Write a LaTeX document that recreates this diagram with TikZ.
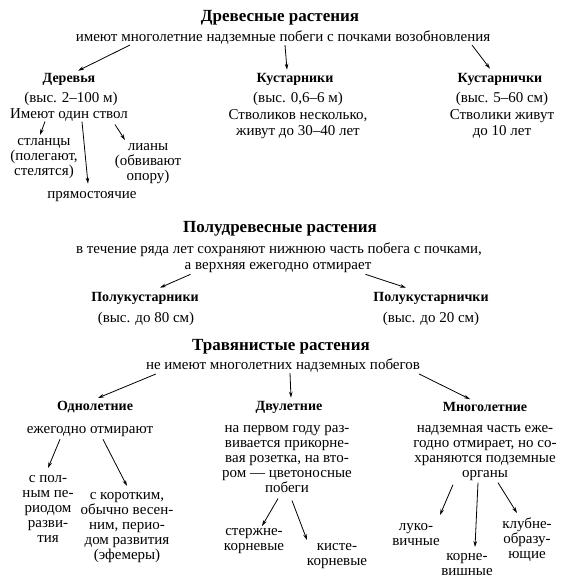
\documentclass[tikz,border=0pt]{standalone}
\usepackage{fontspec}
\setmainfont{Liberation Serif}
\usetikzlibrary{arrows.meta,positioning}

\begin{document}
\begin{tikzpicture}[x=1pt,y=-1pt,
  title/.style={font=\fontsize{17}{19}\selectfont\bfseries, inner sep=0pt},
  head/.style={font=\fontsize{14}{16}\selectfont\bfseries, inner sep=0pt},
  txt/.style={font=\fontsize{15}{15}\selectfont, align=center, inner sep=0pt},
  wide/.style={txt, font=\fontsize{15}{16.5}\selectfont},
  arr/.style={-{Stealth[length=6pt,width=3.6pt]}, line width=0.8pt}]
  \useasboundingbox (0,0) rectangle (565,587);

  % woody plants
  \node [title] (woody) at (280,18) {Древесные растения};
  \node [txt] (woodytxt) at (283,38) {имеют многолетние надземные побеги с почками возобновления};

  \node [head] (trees) at (69,79) {Деревья};
  \node [head] (shrubs) at (295,79) {Кустарники};
  \node [head] (dwarf) at (500,79) {Кустарнички};

  \node [txt] (treeh) at (71,99) {(выс. 2--100 м)};
  \node [txt] (trunk) at (69,115) {Имеют один ствол};
  \node [wide,anchor=north] (shrubtxt) at (298,92) {(выс. 0,6--6 м)\\Стволиков несколько,\\живут до 30--40 лет};
  \node [wide,anchor=north] (dwarftxt) at (502,92) {(выс. 5--60 см)\\Стволики живут\\до 10 лет};

  \node [txt,anchor=north] (creep) at (44,138) {стланцы\\(полегают,\\стелятся)};
  \node [txt,anchor=north] (liana) at (148,143) {лианы\\(обвивают\\опору)};
  \node [txt] (upright) at (92,197) {прямостоячие};

  \draw [arr] ([xshift=-153pt]woodytxt.south) -- ([xshift=9pt,yshift=2pt]trees.north);
  \draw [arr] ([xshift=2pt]woodytxt.south) -- ([xshift=-8pt,yshift=3pt]shrubs.north);
  \draw [arr] ([xshift=189pt]woodytxt.south) -- ([xshift=-10pt,yshift=4pt]dwarf.north);
  \draw [arr] ([xshift=-24pt]trunk.south) -- ([xshift=-4pt,yshift=3pt]creep.north);
  \draw [arr] ([xshift=13pt]trunk.south) -- ([xshift=-4pt,yshift=8pt]upright.north);
  \draw [arr] ([xshift=46pt,yshift=-3pt]trunk.south) -- ([xshift=-23pt,yshift=3pt]liana.north);

  % semi-woody plants
  \node [title] (semi) at (280,229) {Полудревесные растения};
  \node [txt] (semitxt) at (279,250) {в течение ряда лет сохраняют нижнюю часть побега с почками,};
  \node [txt] (semitxt2) at (278,268) {а верхняя ежегодно отмирает};

  \node [head] (semishrub) at (145,298) {Полукустарники};
  \node [txt] (semishrubh) at (146,319) {(выс. до 80 см)};
  \node [head] (semidwarf) at (431,298) {Полукустарнички};
  \node [txt] (semidwarfh) at (431,319) {(выс. до 20 см)};

  \draw [arr] ([xshift=6pt,yshift=-1pt]semitxt2.south west) -- ([xshift=15pt,yshift=4pt]semishrub.north);
  \draw [arr] ([xshift=-6pt,yshift=-1pt]semitxt2.south east) -- ([xshift=-25pt,yshift=4pt]semidwarf.north);

  % herbaceous plants
  \node [title] (herb) at (281,347) {Травянистые растения};
  \node [txt] (herbtxt) at (283,366) {не имеют многолетних надземных побегов};

  \node [head] (annual) at (95,407) {Однолетние};
  \node [head] (biennial) at (289,407) {Двулетние};
  \node [head] (perennial) at (485,407) {Многолетние};

  \node [txt] (annualtxt) at (90,432) {ежегодно отмирают};
  \node [txt,anchor=north] (biennialtxt) at (287,425) {на первом году раз-\\вивается прикорне-\\вая розетка, на вто-\\ром --- цветоносные\\побеги};
  \node [txt,anchor=north] (perennialtxt) at (485,425) {надземная часть еже-\\годно отмирает, но со-\\храняются подземные\\органы};

  \draw [arr] ([xshift=10pt,yshift=-1pt]herbtxt.south west) -- ([xshift=3pt,yshift=3pt]annual.north);
  \draw [arr] ([xshift=7pt]herbtxt.south) -- ([xshift=2pt,yshift=3pt]biennial.north);
  \draw [arr] ([xshift=-1pt,yshift=-1pt]herbtxt.south east) -- ([xshift=-15pt,yshift=3pt]perennial.north);

  \node [txt,anchor=north] (fullper) at (48,475) {с пол-\\ным пе-\\риодом\\разви-\\тия};
  \node [txt,anchor=north] (shortper) at (127,492) {с коротким,\\обычно весен-\\ним, перио-\\дом развития\\(эфемеры)};
  \draw [arr] ([xshift=-30pt,yshift=-2pt]annualtxt.south) -- ([xshift=0pt,yshift=7pt]fullper.north);
  \draw [arr] ([xshift=13pt,yshift=-2pt]annualtxt.south) -- ([yshift=6pt]shortper.north);

  \node [txt,anchor=north] (taproot) at (254,528) {стержне-\\корневые};
  \node [txt,anchor=north] (fibrous) at (337,543) {кисте-\\корневые};
  \draw [arr] ([xshift=-9pt,yshift=-6pt]biennialtxt.south) -- ([xshift=8pt,yshift=2pt]taproot.north);
  \draw [arr] ([xshift=5pt,yshift=-8pt]biennialtxt.south) -- ([xshift=-30pt,yshift=3pt]fibrous.north);

  \node [txt,anchor=north] (bulb) at (416,523) {луко-\\вичные};
  \node [txt,anchor=north] (rhizome) at (467,553) {корне-\\вишные};
  \node [txt,anchor=north] (tuber) at (527,518) {клубне-\\образу-\\ющие};
  \draw [arr] ([xshift=-32pt,yshift=-4pt]perennialtxt.south) -- ([xshift=24pt,yshift=8pt]bulb.north);
  \draw [arr] ([xshift=-7pt,yshift=-2pt]perennialtxt.south) -- ([xshift=8pt,yshift=6pt]rhizome.north);
  \draw [arr] ([xshift=13pt,yshift=-2pt]perennialtxt.south) -- ([xshift=-10pt,yshift=5pt]tuber.north);
\end{tikzpicture}
\end{document}
